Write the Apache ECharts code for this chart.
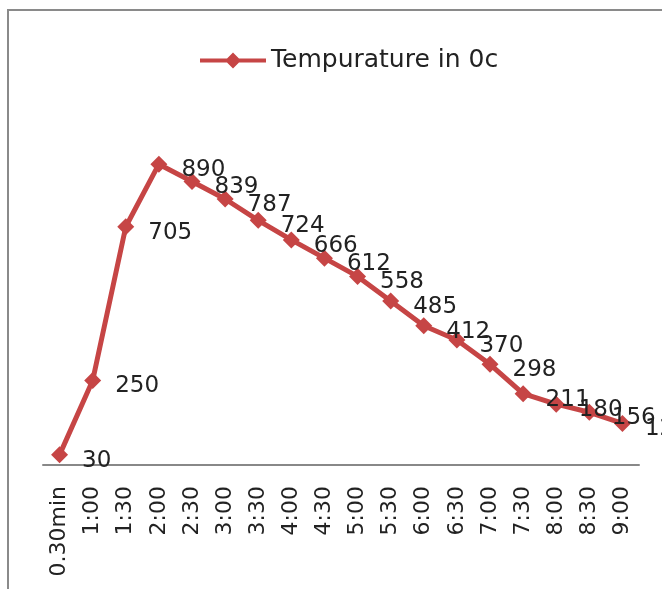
<!DOCTYPE html>
<html><head><meta charset="utf-8">
<script src="https://cdn.jsdelivr.net/npm/echarts@6/dist/echarts.min.js"></script>
<style>html,body{margin:0;padding:0;background:#fff}#c{width:662px;height:589px}</style>
</head><body><div id="c"></div>
<script>
const categories = ['0.30min','1:00','1:30','2:00','2:30','3:00','3:30','4:00','4:30','5:00','5:30','6:00','6:30','7:00','7:30','8:00','8:30','9:00'];
const temperature = [30,250,705,890,839,787,724,666,612,558,485,412,370,298,211,180,156,123];
const seriesName = 'Tempurature in 0c';
const color = '#c64545';
const chart = echarts.init(document.getElementById('c'));
chart.setOption({
  animation:false,
  textStyle:{fontFamily:'DejaVu Sans'},
  graphic:[{type:'rect',shape:{x:8,y:10,width:720,height:640},style:{fill:'none',stroke:'#8a8a8a',lineWidth:2},silent:true}],
  legend:{data:[{name:seriesName,icon:'path://M0,6L27,6L33,0L39,6L66,6L66,10L39,10L33,16L27,10L0,10Z'}],
    left:195,top:43,itemWidth:66,itemHeight:16,itemGap:5,
    textStyle:{fontSize:25,color:'#222',fontFamily:'DejaVu Sans'}},
  grid:{left:43,right:23,top:127,bottom:124,containLabel:false},
  xAxis:{type:'category',data:categories,boundaryGap:true,
    axisLine:{lineStyle:{color:'#888',width:2}},axisTick:{show:false},
    axisLabel:{rotate:90,interval:0,fontSize:22,color:'#222',margin:21}},
  yAxis:{type:'value',min:0,max:1000,show:false,splitLine:{show:false}},
  series:[{name:seriesName,type:'line',data:temperature,symbol:'diamond',symbolSize:17,
    lineStyle:{color:color,width:5},itemStyle:{color:color},
    label:{show:true,position:'right',distance:14,offset:[0,6],fontSize:23,color:'#222'}}]
});
</script></body></html>
